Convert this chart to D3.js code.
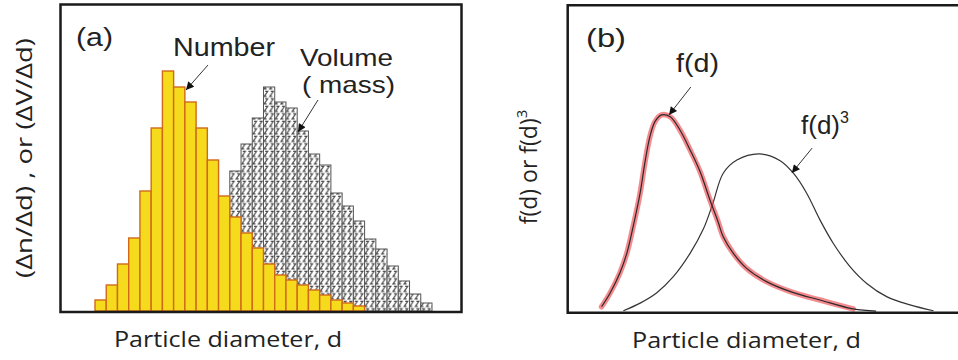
<!DOCTYPE html>
<html>
<head>
<meta charset="utf-8">
<script src="https://cdn.jsdelivr.net/npm/d3@7"></script>
<style>
  body { margin: 0; background: #fff; }
  svg { display: block; }
</style>
</head>
<body>
<div id="chart"></div>
<script>
// (a) histogram: one value per diameter bin
const BINS = [1, 2, 3, 4, 5, 6, 7, 8, 9, 10, 11, 12, 13, 14, 15, 16, 17, 18, 19, 20, 21, 22, 23, 24, 25, 26, 27, 28, 29, 30]
const numberCounts = [11, 26, 47, 73, 120, 183, 240, 224, 209, 183, 151, 115, 94, 78, 63, 47, 36, 31, 26, 21, 16, 11, 8, 5, 0, 0, 0, 0, 0, 0]
const volumeCounts = [0, 0, 1, 2, 4, 8, 14, 22, 34, 50, 70, 95, 140, 167, 193, 224, 209, 203, 180, 157, 146, 118, 105, 90, 72, 62, 45, 30, 17, 8]

// (b) smooth distributions
const fdX = [0.86, 1.08, 1.33, 1.51, 1.67, 1.85, 1.97, 2.10, 2.23, 2.40, 2.62, 2.87, 3.13, 3.38, 3.64, 3.85, 3.98, 4.24, 4.58, 5.09, 5.78, 6.46, 7.31, 7.90]
const fdY = [1.7, 6.2, 12.7, 19.2, 27.8, 38.8, 48.5, 57.1, 62.0, 64.2, 63.6, 59.3, 52.8, 45.9, 36.5, 29.3, 24.5, 19.1, 14.2, 9.9, 6.3, 3.9, 1.0, 0.3]
const fdHighlightEnd = 7.31
const f3X = [1.42, 1.85, 2.27, 2.70, 3.13, 3.47, 3.71, 3.98, 4.33, 4.92, 5.44, 5.78, 6.12, 6.46, 6.80, 7.23, 7.66, 8.17, 8.77, 9.37]
const f3Y = [0.4, 2.9, 6.2, 11.5, 19.1, 27.0, 35.2, 45.2, 49.5, 51.5, 49.3, 45.2, 38.7, 30.0, 22.4, 14.8, 9.3, 5.0, 2.3, 0.4]

const W = 958, H = 360
const svg = d3.select("#chart").append("svg")
  .attr("width", W)
  .attr("height", H)
  .style("background", "#fff")

const defs = svg.append("defs")

// slanted "z" strokes used for the volume histogram
const hatch = defs.append("pattern")
  .attr("id", "zhatch")
  .attr("patternUnits", "userSpaceOnUse")
  .attr("width", 5.6)
  .attr("height", 7.5)
hatch.append("rect").attr("width", 5.6).attr("height", 7.5).attr("fill", "#fff")
hatch.append("path")
  .attr("d", "M2,1.2 H4.6 L1,6.4 H3.4")
  .attr("fill", "none")
  .attr("stroke", "#444")
  .attr("stroke-width", 1.15)

defs.append("marker")
  .attr("id", "arrow")
  .attr("viewBox", "0 0 10 10")
  .attr("refX", 10)
  .attr("refY", 5)
  .attr("markerWidth", 10)
  .attr("markerHeight", 8)
  .attr("markerUnits", "userSpaceOnUse")
  .attr("orient", "auto")
  .append("path")
  .attr("d", "M0,0 L10,5 L0,10 z")
  .attr("fill", "#111")

const annFont = "'Liberation Sans', Arial, sans-serif"
const axisFont = "'Open Sans', 'Noto Sans', sans-serif"

function addText(x, y, str, size, family, width) {
  const t = svg.append("text")
    .attr("x", x)
    .attr("y", y)
    .attr("font-family", family)
    .attr("font-size", size)
    .attr("fill", "#222")
    .text(str)
  if (width) t.attr("textLength", width).attr("lengthAdjust", "spacingAndGlyphs")
  return t
}

function arrow(x1, y1, x2, y2) {
  svg.append("line")
    .attr("x1", x1).attr("y1", y1)
    .attr("x2", x2).attr("y2", y2)
    .attr("stroke", "#333")
    .attr("stroke-width", 1)
    .attr("marker-end", "url(#arrow)")
}

// ---------- panel (a) ----------
const xa = d3.scaleBand().domain(BINS).range([95, 432]).paddingInner(0)
const xaLin = d3.scaleLinear().domain([0, 30]).range([95, 432])
const ya = d3.scaleLinear().domain([0, 306]).range([311, 5])

svg.append("g").selectAll("rect")
  .data(BINS.filter((b, i) => volumeCounts[i] > 0))
  .join("rect")
  .attr("x", b => xa(b))
  .attr("width", xa.bandwidth())
  .attr("y", b => ya(volumeCounts[b - 1]))
  .attr("height", b => ya(0) - ya(volumeCounts[b - 1]))
  .attr("fill", "url(#zhatch)")
  .attr("stroke", "#555")
  .attr("stroke-width", 1)

svg.append("g").selectAll("rect")
  .data(BINS.filter((b, i) => numberCounts[i] > 0))
  .join("rect")
  .attr("x", b => xa(b))
  .attr("width", xa.bandwidth())
  .attr("y", b => ya(numberCounts[b - 1]))
  .attr("height", b => ya(0) - ya(numberCounts[b - 1]))
  .attr("fill", "#f6da1c")
  .attr("stroke", "#d06a1a")
  .attr("stroke-width", 1.4)

svg.append("rect")
  .attr("x", 60.5).attr("y", 4.5)
  .attr("width", 401).attr("height", 307.5)
  .attr("fill", "none")
  .attr("stroke", "#1a1a1a")
  .attr("stroke-width", 2.5)

arrow(xaLin(10.06), ya(246), xaLin(8.1), ya(221))
arrow(xaLin(19.85), ya(211), xaLin(18.07), ya(179))

addText(76, 46, "(a)", 26, annFont, 37)
addText(173, 56, "Number", 25, annFont, 102)
addText(300, 66, "Volume", 24, annFont, 93)
addText(302, 93, "( mass)", 24, annFont, 93)

addText(228, 347, "Particle diameter, d", 21, axisFont, 228).attr("text-anchor", "middle")
svg.append("text")
  .attr("transform", "translate(32,158) rotate(-90)")
  .attr("text-anchor", "middle")
  .attr("font-family", axisFont)
  .attr("font-size", 21)
  .attr("fill", "#222")
  .attr("textLength", 240)
  .attr("lengthAdjust", "spacingAndGlyphs")
  .text("(Δn/Δd) , or (ΔV/Δd)")

// ---------- panel (b) ----------
const xb = d3.scaleLinear().domain([0, 10]).range([568, 958])
const yb = d3.scaleLinear().domain([0, 100]).range([312, 5])

const fd = fdX.map((x, i) => [x, fdY[i]])
const f3 = f3X.map((x, i) => [x, f3Y[i]])
const line = d3.line()
  .x(d => xb(d[0]))
  .y(d => yb(d[1]))
  .curve(d3.curveCatmullRom.alpha(0.5))

svg.append("path")
  .attr("d", line(f3))
  .attr("fill", "none")
  .attr("stroke", "#333")
  .attr("stroke-width", 1.2)

svg.append("path")
  .attr("d", line(fd.filter(d => d[0] <= fdHighlightEnd)))
  .attr("fill", "none")
  .attr("stroke", "#ef4b52")
  .attr("stroke-opacity", 0.65)
  .attr("stroke-width", 5.5)
  .attr("stroke-linecap", "round")

svg.append("path")
  .attr("d", line(fd))
  .attr("fill", "none")
  .attr("stroke", "#2a2a2a")
  .attr("stroke-width", 1.2)

svg.append("path")
  .attr("d", "M960,5.3 H567.7 V312.8 H960")
  .attr("fill", "none")
  .attr("stroke", "#1a1a1a")
  .attr("stroke-width", 2.5)

arrow(xb(3.15), yb(73.3), xb(2.59), yb(64.2))
arrow(xb(6.26), yb(53.4), xb(5.74), yb(45.3))

addText(586, 47, "(b)", 26, annFont, 40)
addText(676, 72, "f(d)", 26, annFont, 43)
const f3lab = addText(801, 134, "f(d)", 26, annFont)
f3lab.append("tspan").attr("dy", -11).attr("font-size", 16).text("3")

addText(746.5, 348, "Particle diameter, d", 21, axisFont, 229).attr("text-anchor", "middle")
const yl = svg.append("text")
  .attr("transform", "translate(537,167) rotate(-90)")
  .attr("text-anchor", "middle")
  .attr("font-family", axisFont)
  .attr("font-size", 23)
  .attr("fill", "#222")
  .text("f(d) or f(d)")
yl.append("tspan").attr("dy", -10).attr("font-size", 15).text("3")
</script>
</body>
</html>
